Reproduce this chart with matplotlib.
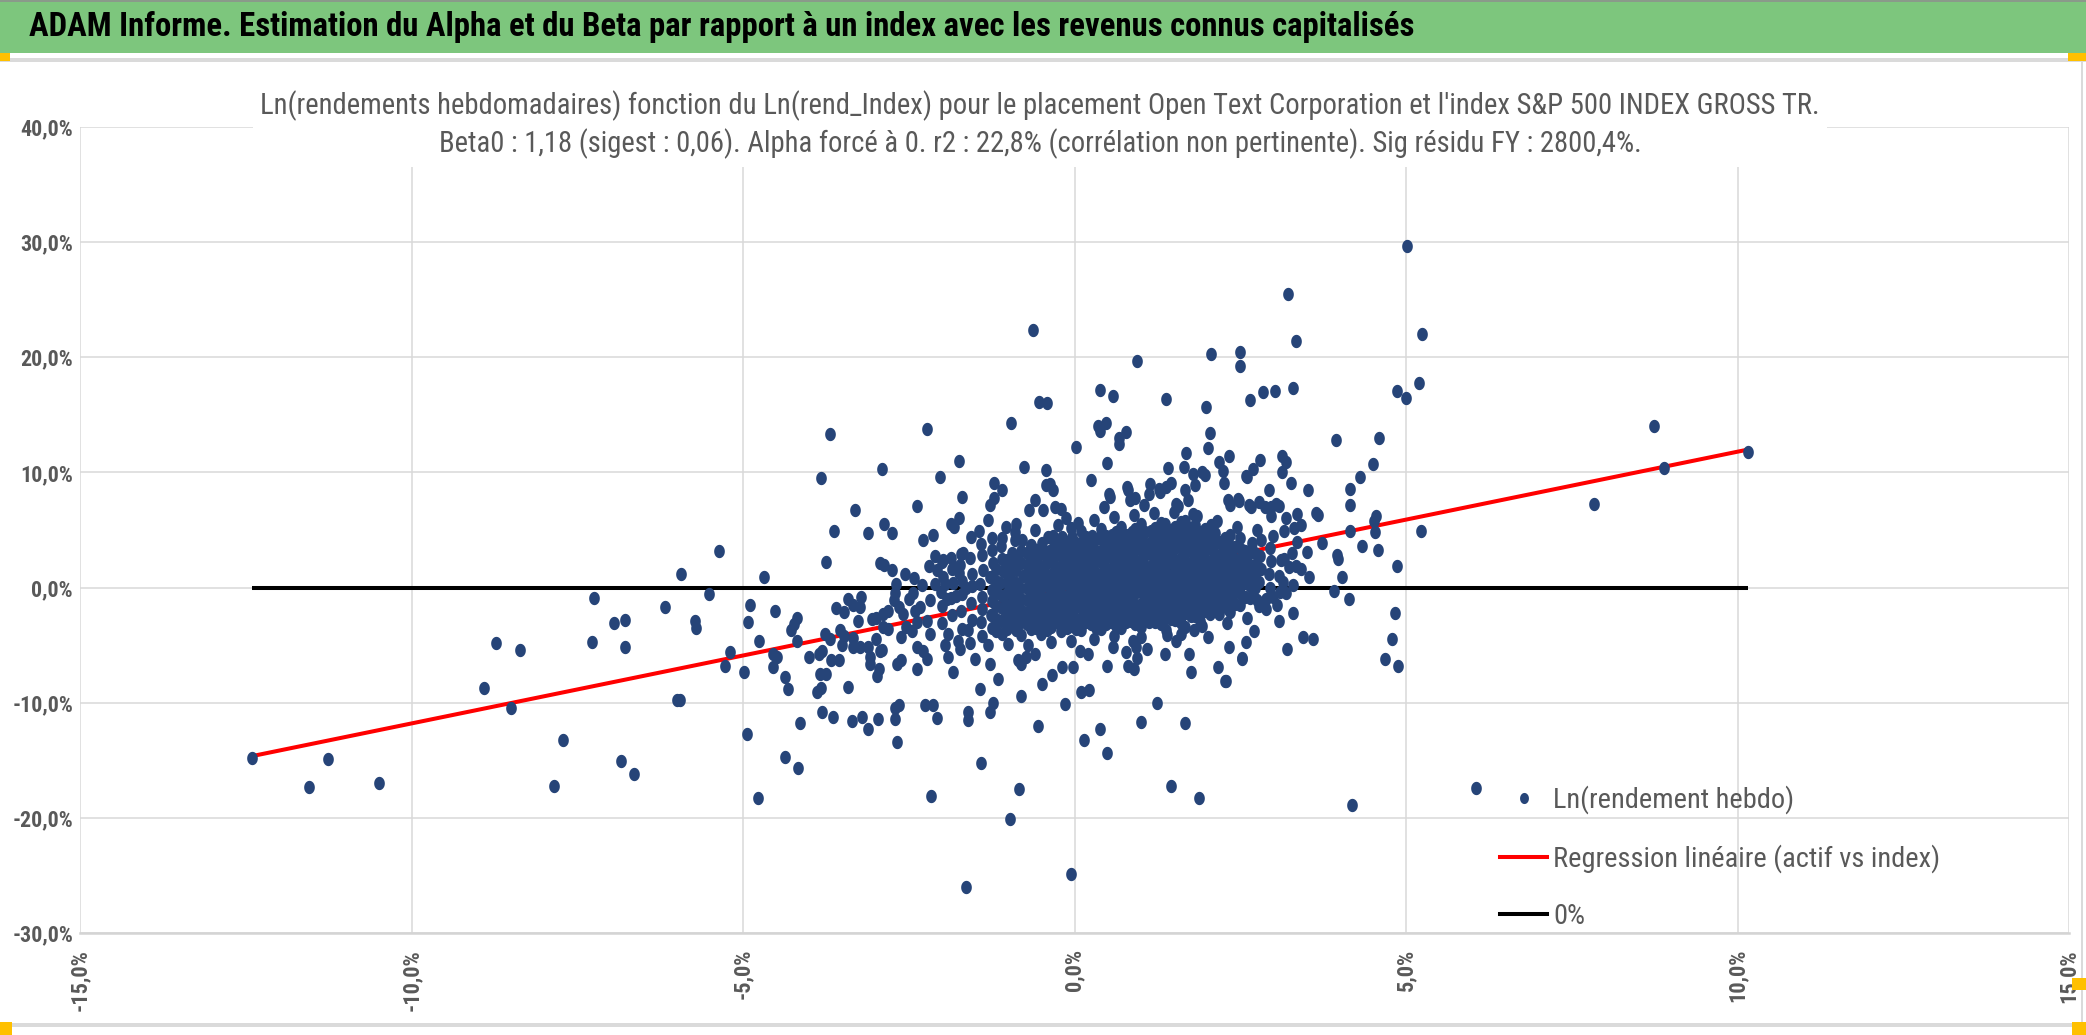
import numpy as np
import matplotlib
matplotlib.use("Agg")
import matplotlib.pyplot as plt
import matplotlib.font_manager as fm
from matplotlib.path import Path
from matplotlib.lines import Line2D
from matplotlib.patches import Rectangle
from matplotlib.ticker import FuncFormatter, MultipleLocator

W, H = 2086, 1035

HEADER = ("ADAM Informe. Estimation du Alpha et du Beta par rapport à un index "
          "avec les revenus connus capitalisés")
TITLE_1 = ("Ln(rendements hebdomadaires) fonction du Ln(rend_Index) pour le placement "
           "Open Text Corporation et l'index S&P 500 INDEX GROSS TR.")
TITLE_2 = ("Beta0 : 1,18 (sigest : 0,06). Alpha forcé à 0. r2 : 22,8% "
           "(corrélation non pertinente). Sig résidu FY : 2800,4%.")
LEGEND_LABELS = ["Ln(rendement hebdo)", "Regression linéaire (actif vs index)", "0%"]
BETA0 = 1.18

# weekly points as (index %, asset %)
far_left = [(-12.41, -14.8), (-11.55, -17.3), (-11.26, -14.9), (-10.49, -17.0), (-8.91, -8.7),
            (-8.72, -4.8), (-8.36, -5.4), (-8.5, -10.5), (-7.72, -13.2), (-7.85, -17.2),
            (-7.25, -0.9), (-7.27, -4.7), (-6.95, -3.1), (-6.78, -2.8), (-6.78, -5.2),
            (-6.84, -15.1), (-6.64, -16.2), (-6.18, -1.7), (-6.0, -9.8), (-5.93, 1.2),
            (-5.73, -2.9), (-5.71, -3.5), (-5.51, -0.6), (-5.2, -5.6), (-5.27, -6.8),
            (-5.95, -9.8)]

left_mid = [(-5.36, 3.2), (-4.98, -7.3), (-4.93, -3.0), (-4.89, -1.5), (-4.76, -4.6), (-4.69, 0.9),
            (-4.52, -2.0), (-4.54, -5.8), (-4.49, -6.0), (-4.54, -6.9), (-4.37, -7.8), (-4.32, -8.8),
            (-4.27, -3.7), (-4.23, -3.2), (-4.18, -2.6), (-4.19, -4.6), (-4.14, -11.8), (-4.94, -12.7),
            (-4.37, -14.7), (-4.17, -15.7), (-4.78, -18.3),
            (-3.69, 13.3), (-2.9, 10.3), (-3.82, 9.5), (-2.37, 7.1), (-3.31, 6.7), (-3.63, 4.9),
            (-3.12, 4.7), (-2.88, 5.5), (-2.75, 4.7), (-3.75, 2.2), (-2.94, 2.1), (-2.88, 2.0),
            (-2.76, 1.5), (-2.56, 1.2), (-2.42, 0.8),
            (-4.0, -6.0), (-3.86, -5.8), (-3.81, -5.5), (-3.77, -4.0), (-3.69, -4.5), (-3.67, -6.3),
            (-3.55, -6.3), (-3.84, -7.5), (-3.75, -7.5), (-3.83, -8.7), (-3.88, -9.1), (-3.6, -1.8),
            (-3.48, -2.1), (-3.41, -1.0), (-3.34, -1.5), (-3.22, -0.8), (-3.24, -1.7), (-3.26, -2.9),
            (-3.54, -3.7), (-3.48, -4.2), (-3.5, -5.0), (-3.34, -4.4), (-3.34, -5.2), (-3.24, -5.2),
            (-3.42, -8.6), (-3.11, -5.2), (-3.09, -6.0), (-3.09, -6.6), (-2.99, -4.5), (-2.95, -7.1),
            (-2.98, -7.7), (-3.06, -2.7), (-2.99, -2.6), (-2.89, -2.3), (-2.81, -2.0), (-2.89, -3.4),
            (-2.81, -3.6), (-2.94, -5.5), (-2.9, -5.4), (-2.69, 0.3), (-2.7, -0.5), (-2.72, -1.1),
            (-2.64, -1.7), (-2.59, -2.3), (-2.61, -4.3), (-2.54, -3.4), (-2.68, -6.6), (-2.61, -6.3),
            (-2.38, -5.2), (-2.37, -7.1), (-2.43, -0.5), (-2.41, -2.0), (-2.38, -3.0), (-3.81, -10.8),
            (-3.65, -11.2), (-3.35, -11.6), (-3.21, -11.2), (-3.12, -12.3), (-2.96, -11.4),
            (-2.71, -11.4), (-2.7, -10.5), (-2.65, -10.2), (-2.68, -13.4)]

center_upper = [(-0.54, 16.1), (-0.41, 16.0), (1.98, 15.7), (-2.23, 13.8), (-0.96, 14.3), (0.38, 13.6),
                (0.47, 14.3), (0.36, 14.0), (0.78, 13.5), (0.67, 13.0), (0.67, 12.5), (2.04, 13.4),
                (2.02, 12.1), (0.03, 12.2), (1.68, 11.7), (-1.74, 11.0), (-0.76, 10.5), (-0.43, 10.2),
                (0.49, 10.8), (1.41, 10.4), (1.65, 10.5), (2.33, 11.4), (2.18, 10.9), (2.24, 10.1),
                (2.8, 11.1), (2.69, 10.3), (2.6, 9.6), (-2.03, 9.6), (-1.22, 9.1), (-1.09, 8.5),
                (-1.21, 7.8), (-1.27, 7.2), (-1.69, 7.9), (-0.43, 8.9), (-0.33, 8.5), (-0.37, 9.0),
                (-0.3, 7.0), (-0.59, 7.6), (-0.68, 6.7), (-0.48, 6.7), (0.25, 9.3), (0.52, 8.1),
                (0.79, 8.7), (0.92, 7.8), (0.84, 7.6), (1.14, 9.0), (1.27, 8.6), (1.38, 8.7),
                (1.12, 8.1), (1.46, 9.1), (1.67, 8.5), (1.81, 8.9), (1.71, 7.6), (1.53, 7.3),
                (1.93, 10.0), (1.78, 9.9), (2.26, 9.1), (2.32, 7.6), (2.46, 7.7), (2.63, 7.2),
                (2.79, 7.4), (2.93, 8.5), (2.96, 7.0), (3.04, 7.3), (2.58, 9.7), (1.97, 9.8),
                (-1.81, 5.3), (-1.86, 5.5), (-1.74, 6.0), (-2.28, 4.1), (-2.14, 4.6), (-1.56, 4.4),
                (-1.44, 4.9), (-1.41, 3.8), (-1.24, 4.3), (-1.1, 4.3), (-1.04, 5.3), (-0.88, 5.5),
                (-0.9, 4.1), (-0.65, 3.7), (-0.13, 6.0), (-0.05, 5.2), (-0.4, 4.4), (-0.33, 4.5),
                (-0.19, 4.4), (0.8, 8.5), (0.54, 7.9), (1.29, 8.3), (1.56, 7.1), (1.78, 6.4),
                (2.35, 7.2), (2.48, 7.5), (2.97, 6.2), (2.66, 7.0), (2.87, 7.0)]

center_lower = [(-2.11, 2.7), (-1.98, 2.4), (-1.87, 2.6), (-1.71, 2.9), (-2.07, 1.5), (-1.74, 1.3),
                (-1.81, 1.8), (-2.33, -1.7), (-2.18, -1.1), (-2.23, -2.9), (-2.11, 0.3), (-1.96, 0.3),
                (-1.93, -1.0), (-1.78, -0.7), (-1.63, 0.0), (-2.28, -5.5), (-2.18, -4.0), (-2.23, -6.2),
                (-1.91, -4.0), (-1.91, -6.0), (-1.76, -4.6), (-1.73, -5.3), (-1.6, -3.7), (-1.58, -4.8),
                (-1.83, -7.3), (-2.26, -10.2), (-2.13, -10.2), (-2.07, -11.3), (-1.6, -10.8),
                (-1.6, -11.5), (-2.17, -18.1), (-1.41, -15.2), (-0.84, -17.5), (-1.42, -8.8),
                (-1.27, -6.6), (-1.16, -7.9), (-1.23, -10.0), (-1.27, -10.8), (-0.8, -9.4),
                (-0.55, -12.0), (-0.14, -10.1), (-0.49, -8.4), (-0.34, -7.6), (-0.19, -6.9),
                (-0.03, -6.9), (-0.85, -6.3), (-0.73, -6.0), (-0.8, -6.6), (0.08, -5.5), (0.1, -9.1),
                (0.22, -8.9), (0.14, -13.2), (0.39, -12.3), (0.49, -14.4), (0.49, -6.8), (0.8, -6.8),
                (0.9, -7.1), (0.94, -6.1), (1.01, -11.7), (1.24, -10.0), (1.67, -11.8), (1.45, -17.2),
                (1.88, -18.3), (1.76, -7.3), (1.72, -5.8), (2.02, -4.3), (1.92, -3.3), (2.17, -6.9),
                (2.28, -8.1), (2.33, -5.2), (2.53, -6.1), (2.59, -4.7), (2.7, -3.8), (2.18, -2.3),
                (2.31, -1.9), (2.23, -0.5), (3.08, -2.9), (2.76, -1.1), (2.89, -1.9), (1.38, -3.7),
                (1.53, -4.6), (1.61, -4.0), (1.67, -3.4), (1.36, -5.8), (1.13, -3.0), (1.23, -2.4),
                (0.58, -5.2), (0.78, -5.6), (0.88, -4.6), (0.93, -5.2), (1.9, -1.7), (2.08, -1.1),
                (2.89, -1.0), (2.99, -0.8), (2.79, -1.6), (2.52, -6.2), (2.27, -8.1)]

right_side = [(5.01, 29.7), (3.22, 25.5), (5.24, 22.0), (3.34, 21.4), (2.06, 20.3), (2.5, 20.5),
              (2.5, 19.2), (0.94, 19.7), (1.38, 16.4), (0.58, 16.6), (0.39, 17.2), (2.65, 16.3),
              (2.84, 17.0), (3.03, 17.1), (3.29, 17.3), (4.87, 17.1), (5.0, 16.5), (5.2, 17.8),
              (8.74, 14.0), (10.16, 11.8), (8.89, 10.4), (7.84, 7.3), (5.22, 4.9), (3.95, 12.8),
              (4.59, 13.0), (4.5, 10.7), (4.31, 9.6), (4.15, 8.6), (4.16, 7.2), (4.54, 6.2),
              (4.53, 4.8), (4.15, 4.9), (3.68, 6.3), (3.13, 11.4), (3.19, 10.9), (3.13, 10.0),
              (3.26, 9.1), (3.52, 8.5), (3.36, 6.4), (3.09, 7.1), (4.52, 5.8), (3.65, 6.5),
              (3.73, 3.9), (4.33, 3.6), (4.58, 3.3), (3.96, 2.8), (3.98, 2.5), (4.04, 0.9),
              (3.92, -0.3), (4.86, 1.9), (4.83, -2.2), (4.79, -4.5), (4.68, -6.2), (4.88, -6.8),
              (3.45, -4.3), (3.6, -4.5), (3.2, -5.3), (3.54, 0.9), (3.19, 6.0), (3.31, 5.2),
              (3.41, 5.4), (3.16, 4.9), (3.16, 2.5), (3.24, 1.8), (3.34, 1.9), (3.41, 1.6),
              (3.19, -0.5), (3.14, 0.5), (4.14, -1.0)]

outliers = [(-0.62, 22.4), (-0.98, -20.1), (-1.63, -26.0), (-0.06, -24.9), (4.18, -18.9), (6.06, -17.4)]

# dense middle of the cloud, estimated column by column
core = [(-2.0, -3.1), (-2.0, -1.6), (-2.02, -0.4), (-1.98, 0.9), (-2.0, 2.2),
        (-1.85, -2.4), (-1.86, -0.9), (-1.84, 0.4), (-1.85, 1.6),
        (-1.7, -3.6), (-1.71, -2.0), (-1.69, -0.6), (-1.7, 0.6), (-1.72, 2.0), (-1.68, 3.0),
        (-1.55, -2.8), (-1.56, -1.3), (-1.54, 0.1), (-1.55, 1.2), (-1.57, 2.6),
        (-1.4, -4.2), (-1.41, -3.0), (-1.39, -1.9), (-1.4, -0.8), (-1.42, 0.3), (-1.38, 1.5), (-1.4, 2.8),
        (-1.25, -3.5), (-1.26, -2.4), (-1.24, -1.2), (-1.25, -0.2), (-1.27, 0.9), (-1.23, 2.1), (-1.25, 3.3),
        (-1.1, -4.0), (-1.11, -2.9), (-1.09, -1.8), (-1.1, -0.7), (-1.12, 0.4), (-1.08, 1.4), (-1.1, 2.5),
        (-1.11, 3.6),
        (-0.95, -3.3), (-0.96, -2.3), (-0.94, -1.3), (-0.95, -0.3), (-0.97, 0.8), (-0.93, 1.9), (-0.95, 3.0),
        (-0.8, -4.1), (-0.81, -3.0), (-0.79, -2.0), (-0.8, -1.0), (-0.82, 0.0), (-0.78, 1.0), (-0.8, 2.1),
        (-0.81, 3.2), (-0.79, 4.1),
        (-0.65, -3.6), (-0.66, -2.6), (-0.64, -1.6), (-0.65, -0.5), (-0.67, 0.5), (-0.63, 1.5), (-0.65, 2.6),
        (-0.66, 3.6),
        (-0.5, -4.0), (-0.51, -3.0), (-0.49, -2.1), (-0.5, -1.2), (-0.52, -0.2), (-0.48, 0.8), (-0.5, 1.8),
        (-0.51, 2.9), (-0.49, 3.9),
        (-0.35, -3.4), (-0.36, -2.5), (-0.34, -1.5), (-0.35, -0.6), (-0.37, 0.4), (-0.33, 1.3), (-0.35, 2.3),
        (-0.36, 3.3), (-0.34, 4.3),
        (-0.2, -3.8), (-0.21, -2.9), (-0.19, -1.9), (-0.2, -1.0), (-0.22, 0.0), (-0.18, 0.9), (-0.2, 1.9),
        (-0.21, 2.8), (-0.19, 3.8),
        (-0.05, -3.3), (-0.06, -2.3), (-0.04, -1.4), (-0.05, -0.4), (-0.07, 0.6), (-0.03, 1.5), (-0.05, 2.4),
        (-0.06, 3.4), (-0.04, 4.4),
        (0.1, -3.7), (0.09, -2.7), (0.11, -1.8), (0.1, -0.8), (0.08, 0.2), (0.12, 1.1), (0.1, 2.0),
        (0.09, 3.0), (0.11, 4.0), (0.1, 4.9),
        (0.25, -3.2), (0.24, -2.2), (0.26, -1.3), (0.25, -0.3), (0.23, 0.7), (0.27, 1.6), (0.25, 2.6),
        (0.24, 3.5), (0.26, 4.5),
        (0.4, -3.6), (0.39, -2.6), (0.41, -1.7), (0.4, -0.7), (0.38, 0.3), (0.42, 1.2), (0.4, 2.2),
        (0.39, 3.1), (0.41, 4.1), (0.4, 5.1),
        (0.55, -3.0), (0.54, -2.1), (0.56, -1.1), (0.55, -0.2), (0.53, 0.8), (0.57, 1.7), (0.55, 2.7),
        (0.54, 3.6), (0.56, 4.6),
        (0.7, -3.5), (0.69, -2.5), (0.71, -1.5), (0.7, -0.6), (0.68, 0.4), (0.72, 1.3), (0.7, 2.3),
        (0.69, 3.2), (0.71, 4.2), (0.7, 5.3),
        (0.85, -2.9), (0.84, -2.0), (0.86, -1.0), (0.85, 0.0), (0.83, 0.9), (0.87, 1.9), (0.85, 2.8),
        (0.84, 3.8), (0.86, 4.8),
        (1.0, -3.4), (0.99, -2.4), (1.01, -1.4), (1.0, -0.4), (0.98, 0.5), (1.02, 1.5), (1.0, 2.4),
        (0.99, 3.4), (1.01, 4.4), (1.0, 5.5),
        (1.15, -2.8), (1.14, -1.8), (1.16, -0.9), (1.15, 0.1), (1.13, 1.0), (1.17, 2.0), (1.15, 2.9),
        (1.14, 3.9), (1.16, 4.9),
        (1.3, -3.2), (1.29, -2.2), (1.31, -1.3), (1.3, -0.3), (1.28, 0.6), (1.32, 1.6), (1.3, 2.5),
        (1.29, 3.5), (1.31, 4.5), (1.3, 5.6),
        (1.45, -2.7), (1.44, -1.7), (1.46, -0.8), (1.45, 0.2), (1.43, 1.1), (1.47, 2.1), (1.45, 3.0),
        (1.44, 4.0), (1.46, 5.0),
        (1.6, -3.1), (1.59, -2.1), (1.61, -1.2), (1.6, -0.2), (1.58, 0.7), (1.62, 1.7), (1.6, 2.6),
        (1.59, 3.6), (1.61, 4.6), (1.6, 5.7),
        (1.75, -2.5), (1.74, -1.6), (1.76, -0.6), (1.75, 0.3), (1.73, 1.3), (1.77, 2.2), (1.75, 3.2),
        (1.74, 4.2), (1.76, 5.2),
        (1.9, -2.9), (1.89, -1.9), (1.91, -1.0), (1.9, 0.0), (1.88, 0.9), (1.92, 1.9), (1.9, 2.8),
        (1.89, 3.8), (1.91, 4.8),
        (2.05, -2.3), (2.04, -1.4), (2.06, -0.4), (2.05, 0.5), (2.03, 1.5), (2.07, 2.4), (2.05, 3.4),
        (2.04, 4.4), (2.06, 5.4),
        (2.2, -1.8), (2.19, -0.8), (2.21, 0.1), (2.2, 1.1), (2.18, 2.0), (2.22, 3.0), (2.2, 4.0),
        (2.35, -2.1), (2.34, -1.2), (2.36, -0.2), (2.35, 0.7), (2.33, 1.7), (2.37, 2.6), (2.35, 3.6),
        (2.34, 4.6),
        (2.5, -1.5), (2.49, -0.5), (2.51, 0.4), (2.5, 1.4), (2.48, 2.3), (2.52, 3.3), (2.5, 4.3),
        (2.65, -0.9), (2.64, 0.1), (2.66, 1.0), (2.65, 2.0), (2.63, 3.0), (2.67, 3.9),
        (2.8, -1.3), (2.79, 0.5), (2.81, 1.6), (2.8, 2.7), (2.82, 4.1),
        (2.95, 0.0), (2.94, 1.2), (2.96, 2.3), (2.95, 3.4),
        (3.1, -0.4), (3.09, 1.0), (3.11, 2.4),
        (3.3, 0.2), (3.28, 3.0)]

# second pass over the core, between the first columns (band rises to the right)
core_between = [(-1.18, -3.8), (-1.18, -2.7), (-1.18, -1.6), (-1.18, -0.5), (-1.18, 0.6), (-1.18, 1.6),
                (-1.02, -3.6), (-1.02, -2.6), (-1.02, -1.5), (-1.02, -0.5), (-1.02, 0.5), (-1.02, 1.6),
                (-1.02, 2.4),
                (-0.88, -3.7), (-0.88, -2.6), (-0.88, -1.6), (-0.88, -0.6), (-0.88, 0.4), (-0.88, 1.5),
                (-0.88, 2.5),
                (-0.72, -3.2), (-0.72, -2.2), (-0.72, -1.1), (-0.72, 0.0), (-0.72, 1.0), (-0.72, 2.0),
                (-0.72, 3.0),
                (-0.58, -3.5), (-0.58, -2.5), (-0.58, -1.6), (-0.58, -0.7), (-0.58, 0.3), (-0.58, 1.3),
                (-0.58, 2.4), (-0.58, 3.3),
                (-0.42, -3.7), (-0.42, -2.8), (-0.42, -1.8), (-0.42, -0.9), (-0.42, 0.1), (-0.42, 1.1),
                (-0.42, 2.1), (-0.42, 3.1),
                (-0.28, -3.0), (-0.28, -2.0), (-0.28, -1.1), (-0.28, -0.1), (-0.28, 0.9), (-0.28, 1.8),
                (-0.28, 2.8), (-0.28, 3.7),
                (-0.12, -3.5), (-0.12, -2.6), (-0.12, -1.6), (-0.12, -0.7), (-0.12, 0.3), (-0.12, 1.2),
                (-0.12, 2.2), (-0.12, 3.1), (-0.12, 4.0),
                (0.02, -3.6), (0.02, -2.7), (0.02, -1.7), (0.02, -0.8), (0.02, 0.1), (0.02, 1.0),
                (0.02, 2.0), (0.02, 2.9), (0.02, 3.9),
                (0.17, -3.0), (0.17, -2.0), (0.17, -1.1), (0.17, -0.1), (0.17, 0.8), (0.17, 1.7),
                (0.17, 2.7), (0.17, 3.7), (0.17, 4.4),
                (0.32, -3.5), (0.32, -2.5), (0.32, -1.5), (0.32, -0.6), (0.32, 0.4), (0.32, 1.3),
                (0.32, 2.3), (0.32, 3.2), (0.32, 4.2),
                (0.47, -3.2), (0.47, -2.2), (0.47, -1.2), (0.47, -0.3), (0.47, 0.7), (0.47, 1.6),
                (0.47, 2.6), (0.47, 3.5), (0.47, 4.5),
                (0.62, -3.3), (0.62, -2.7), (0.62, -1.8), (0.62, -0.9), (0.62, 0.1), (0.62, 1.0),
                (0.62, 2.0), (0.62, 2.9), (0.62, 3.9), (0.62, 4.8),
                (0.77, -3.0), (0.77, -2.0), (0.77, -1.1), (0.77, -0.1), (0.77, 0.8), (0.77, 1.8),
                (0.77, 2.7), (0.77, 3.7), (0.77, 4.6),
                (0.92, -3.2), (0.92, -2.5), (0.92, -1.5), (0.92, -0.5), (0.92, 0.4), (0.92, 1.4),
                (0.92, 2.3), (0.92, 3.3), (0.92, 4.3), (0.92, 5.1),
                (1.07, -2.8), (1.07, -2.0), (1.07, -1.0), (1.07, -0.1), (1.07, 0.9), (1.07, 1.9),
                (1.07, 2.8), (1.07, 3.8), (1.07, 4.8),
                (1.22, -3.0), (1.22, -2.5), (1.22, -1.5), (1.22, -0.6), (1.22, 0.4), (1.22, 1.4),
                (1.22, 2.3), (1.22, 3.3), (1.22, 4.2), (1.22, 5.2),
                (1.37, -2.6), (1.37, -1.9), (1.37, -1.0), (1.37, 0.0), (1.37, 0.9), (1.37, 1.9),
                (1.37, 2.8), (1.37, 3.8), (1.37, 4.8), (1.37, 5.5),
                (1.52, -2.8), (1.52, -2.3), (1.52, -1.4), (1.52, -0.4), (1.52, 0.5), (1.52, 1.5),
                (1.52, 2.4), (1.52, 3.4), (1.52, 4.4), (1.52, 5.3),
                (1.67, -2.2), (1.67, -1.7), (1.67, -0.8), (1.67, 0.2), (1.67, 1.1), (1.67, 2.1),
                (1.67, 3.0), (1.67, 4.0), (1.67, 5.0), (1.67, 5.8),
                (1.82, -2.5), (1.82, -1.3), (1.82, -0.3), (1.82, 0.6), (1.82, 1.6), (1.82, 2.5),
                (1.82, 3.5), (1.82, 4.5), (1.82, 5.4),
                (1.97, -2.0), (1.97, -1.5), (1.97, -0.6), (1.97, 0.4), (1.97, 1.3), (1.97, 2.3),
                (1.97, 3.2), (1.97, 4.2), (1.97, 5.1),
                (2.12, -1.6), (2.12, -1.1), (2.12, 0.0), (2.12, 0.9), (2.12, 1.9), (2.12, 2.8),
                (2.12, 3.8), (2.12, 4.7),
                (2.27, -1.2), (2.27, -0.5), (2.27, 0.5), (2.27, 1.4), (2.27, 2.4), (2.27, 3.3), (2.27, 4.3),
                (2.42, -1.4), (2.42, -0.4), (2.42, 0.6), (2.42, 1.5), (2.42, 2.5), (2.42, 3.5),
                (2.57, -0.8), (2.57, 0.4), (2.57, 1.3), (2.57, 2.2), (2.57, 3.2),
                (2.72, 0.0), (2.72, 1.0), (2.72, 2.0), (2.72, 3.0)]

fringe = [(-0.9, 4.8), (-0.6, 5.0), (-0.25, 5.4), (0.05, 5.6), (0.3, 5.9), (0.6, 6.1), (0.9, 6.3),
          (1.2, 6.5), (1.5, 6.6), (1.85, 6.2), (2.15, 5.8), (2.45, 5.3), (2.75, 5.0), (-1.3, -5.0),
          (-1.0, -4.9), (-0.7, -5.0), (-0.35, -4.7), (-0.05, -4.6), (0.3, -4.5), (0.6, -4.2),
          (1.0, -4.3), (1.4, -4.1), (1.8, -3.7), (2.3, -3.1), (2.6, -2.6), (0.2, -5.8), (1.1, -5.3),
          (-0.6, -5.8), (-2.5, -1.0), (-2.3, 0.2), (-2.2, 1.9), (-2.45, -3.8), (-1.5, -6.2),
          (-1.95, -5.0), (-1.3, 5.9), (-0.2, 6.8), (0.45, 7.0), (1.05, 7.2), (3.0, 4.5), (3.35, 4.0),
          (3.5, 3.1), (3.05, -1.5), (3.3, -2.2)]

points = (far_left + left_mid + center_upper + center_lower + right_side + outliers
          + core + core_between + fringe)
idx_ret = np.array([p[0] for p in points])
asset_ret = np.array([p[1] for p in points])

# font: narrow sans if we have one
installed = {f.name for f in fm.fontManager.ttflist}
FONT = "DejaVu Sans"
for cand in ["Liberation Sans Narrow", "Roboto Condensed", "Open Sans Condensed", "Liberation Sans"]:
    if cand in installed:
        FONT = cand
        break
plt.rcParams["font.family"] = [FONT, "DejaVu Sans"]

GREY_TXT = "#595959"
DOT = "#264478"

fig = plt.figure(figsize=(W / 100, H / 100), dpi=100)
fig.patch.set_facecolor("white")
renderer = fig.canvas.get_renderer()


def text_width(s, weight="normal"):
    t = fig.text(0, 0, s, fontsize=10, weight=weight)
    w = t.get_window_extent(renderer).width
    t.remove()
    return w


def text_height(s, size):
    t = fig.text(0, 0, s, fontsize=size)
    h = t.get_window_extent(renderer).height
    t.remove()
    return h


head_size = 10 * 1384 / text_width(HEADER, "bold")
title_size = 10 * 1553 / text_width(TITLE_1)
leg_size = 10 * 384 / text_width(LEGEND_LABELS[1])
ytick_size = 10 * 53 / text_width("40,0%", "bold")
xtick_size = 10 * 62 / text_width("-15,0%", "bold")

# header band and frame
fig.patches.append(Rectangle((0, 1 - 53 / H), 1, 53 / H, transform=fig.transFigure,
                             facecolor="#7DC67D", edgecolor="none"))
fig.patches.append(Rectangle((0, 1 - 2 / H), 1, 2 / H, transform=fig.transFigure,
                             facecolor="#8A9A8A", edgecolor="none"))
fig.patches.append(Rectangle((0, 1 - 62 / H), 1, 4 / H, transform=fig.transFigure,
                             facecolor="#DADADA", edgecolor="none"))
fig.patches.append(Rectangle((0, 1 - 1027 / H), 1, 4 / H, transform=fig.transFigure,
                             facecolor="#DADADA", edgecolor="none"))
fig.patches.append(Rectangle((2081 / W, 1 - 1025 / H), 2 / W, 965 / H, transform=fig.transFigure,
                             facecolor="#DADADA", edgecolor="none"))
for hx, hy, hw, hh in [(0, 53, 10, 8), (2068, 53, 18, 8), (2072, 978, 14, 12),
                       (0, 1022, 12, 13), (2072, 1022, 14, 13)]:
    fig.patches.append(Rectangle((hx / W, 1 - (hy + hh) / H), hw / W, hh / H,
                                 transform=fig.transFigure, facecolor="#FFC000", edgecolor="none"))

fig.text(29 / W, 1 - 27 / H, HEADER, fontsize=head_size, weight="bold", color="black",
         ha="left", va="center")

ax = fig.add_axes([80 / W, 102 / H, (2069 - 80) / W, (933 - 127) / H])

x_line = np.array([idx_ret.min(), idx_ret.max()])
ax.plot(x_line, BETA0 * x_line, color="#FF0000", lw=2.9, zorder=2, solid_capstyle="butt")
ax.plot(x_line, [0, 0], color="black", lw=2.9, zorder=2, solid_capstyle="butt")

t = np.linspace(0, 2 * np.pi, 40)
ellipse = Path(np.column_stack([0.8 * np.cos(t), np.sin(t)]), closed=True)
ax.plot(idx_ret, asset_ret, linestyle="none", marker=ellipse, ms=9.6,
        mfc=DOT, mec=DOT, mew=0, zorder=3)

ax.set_xlim(-15, 15)
ax.set_ylim(-30, 40)
ax.xaxis.set_major_locator(MultipleLocator(5))
ax.yaxis.set_major_locator(MultipleLocator(10))
pct = FuncFormatter(lambda v, p: f"{v:.1f}%".replace(".", ","))
ax.xaxis.set_major_formatter(pct)
ax.yaxis.set_major_formatter(pct)
ax.grid(True, color="#D9D9D9", lw=1.1)
ax.set_axisbelow(True)
for s in ["top", "left", "right"]:
    ax.spines[s].set_visible(False)
ax.spines["bottom"].set_color("#D4D4D4")
ax.spines["bottom"].set_linewidth(1.8)
ax.tick_params(axis="both", length=0, colors=GREY_TXT)
ax.tick_params(axis="y", pad=5, labelsize=ytick_size)
ax.tick_params(axis="x", pad=11.5, labelsize=xtick_size, labelrotation=90)
for lab in ax.get_xticklabels() + ax.get_yticklabels():
    lab.set_fontweight("bold")

# two line title on a white box over the grid
title_px = title_size * 100 / 72
fig.text(1040 / W, 1 - 125 / H, TITLE_1 + "\n" + TITLE_2, fontsize=title_size, color=GREY_TXT,
         ha="center", va="center", multialignment="center", linespacing=44 / (1.17 * title_px),
         bbox=dict(boxstyle="square,pad=0.25", facecolor="white", edgecolor="none"))

# legend
leg_px = leg_size * 100 / 72
txt_h = text_height("Ln(rendement hebdo)", leg_size)
handles = [Line2D([], [], linestyle="none", marker=ellipse, ms=8, mfc=DOT, mec=DOT, mew=0),
           Line2D([], [], color="#FF0000", lw=2.9),
           Line2D([], [], color="black", lw=2.9)]
ax.legend(handles, LEGEND_LABELS, loc="upper left",
          bbox_to_anchor=(1500 / W, 1 - (800 - txt_h / 2) / H), bbox_transform=fig.transFigure,
          frameon=False, borderpad=0, borderaxespad=0, fontsize=leg_size, labelcolor=GREY_TXT,
          handlelength=47 / leg_px, handletextpad=6 / leg_px,
          labelspacing=(58.5 - txt_h) / leg_px)

fig.savefig("out.png", dpi=100, facecolor="white")
